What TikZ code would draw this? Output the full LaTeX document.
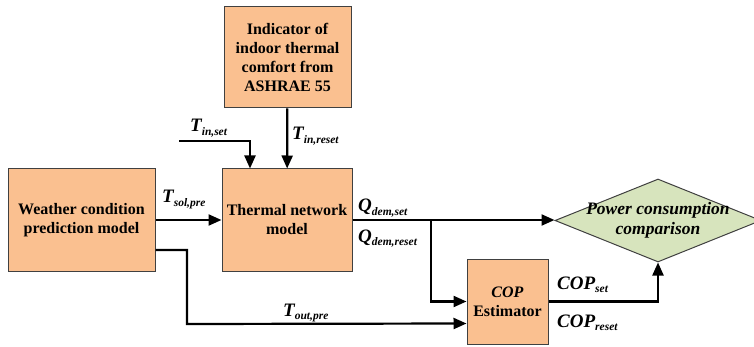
\documentclass[tikz,border=0pt]{standalone}
\usepackage{fontspec}
\setmainfont{Liberation Serif}
\usetikzlibrary{shapes.geometric, arrows.meta, positioning, calc}

\definecolor{boxorange}{HTML}{FAC090}
\definecolor{diagreen}{HTML}{D7E4BD}
\definecolor{boxline}{HTML}{404040}

% bold italic symbol with lowered subscript
\newcommand{\varsym}[2]{\textbf{\textit{\fontsize{19}{19}\selectfont #1\raisebox{-0.35ex}{\fontsize{11.5}{12}\selectfont #2}}}}

\begin{document}
\begin{tikzpicture}[
        x=1pt, y=-1pt,
        box/.style={rectangle, draw=boxline, line width=1pt, fill=boxorange, align=center, inner sep=0pt, font=\fontsize{16}{19}\selectfont\bfseries},
        decision/.style={diamond, draw=boxline, line width=1pt, fill=diagreen, inner sep=0pt},
        varlabel/.style={anchor=base west, inner sep=0pt},
        arrow/.style={-{Triangle[length=13pt, width=11pt]}, line width=2.2pt, black}
    ]
    \useasboundingbox (0,0) rectangle (754,347);

    % Blocks
    \node[box, minimum width=127pt, minimum height=101pt] (indicator) at (287.5, 57.5) {Indicator of\\indoor thermal\\comfort from\\ASHRAE 55};
    \node[box, minimum width=147pt, minimum height=102pt] (weather) at (81.5, 220) {Weather condition\\prediction model};
    \node[box, minimum width=130pt, minimum height=102pt] (thermal) at (287, 220) {Thermal network\\model};
    \node[box, minimum width=81pt, minimum height=85pt] (cop) at (507.5, 301.5) {\textit{COP}\\Estimator};

    % Comparison
    \node[decision, minimum width=206pt, minimum height=83pt] (compare) at (658, 220.5) {};
    \node[align=center, inner sep=0pt, font=\fontsize{17.5}{20}\selectfont\bfseries\itshape] (comparetext) at (compare.center) {Power consumption\\comparison};

    % Signal labels
    \node[varlabel] (tinsetlab) at (190, 132) {\varsym{T}{in,set}};
    \node[varlabel] (tinresetlab) at (292, 140) {\varsym{T}{in,reset}};
    \node[varlabel] (tsollab) at (162, 203) {\varsym{T}{sol,pre}};
    \node[varlabel] (qsetlab) at (358, 212) {\varsym{Q}{dem,set}};
    \node[varlabel] (qresetlab) at (358, 242) {\varsym{Q}{dem,reset}};
    \node[varlabel] (toutlab) at (283, 316) {\varsym{T}{out,pre}};
    \node[varlabel] (copsetlab) at (557, 289) {\varsym{COP}{set}};
    \node[varlabel] (copresetlab) at (557, 327) {\varsym{COP}{reset}};

    % Connection points
    \coordinate (tinstart) at (179, 141);
    \coordinate (qsplit) at (431, 220);
    \coordinate (toutbend) at (187, 324);

    % Arrows - inputs of thermal model
    \draw[arrow] (tinstart) -| ([xshift=-37pt]thermal.north);
    \draw[arrow] (indicator) -- (thermal);
    \draw[arrow] (weather) -- (thermal);

    % Arrows - demand and COP
    \draw[arrow] (thermal.east) -- (thermal.east -| compare.west);
    \draw[arrow] (qsplit) |- (cop.west);
    \draw[arrow] ([yshift=-30pt]weather.east) -| (toutbend) -- ([yshift=-22pt]cop.west);
    \draw[arrow] (cop.east) -| (compare.south);

\end{tikzpicture}
\end{document}
